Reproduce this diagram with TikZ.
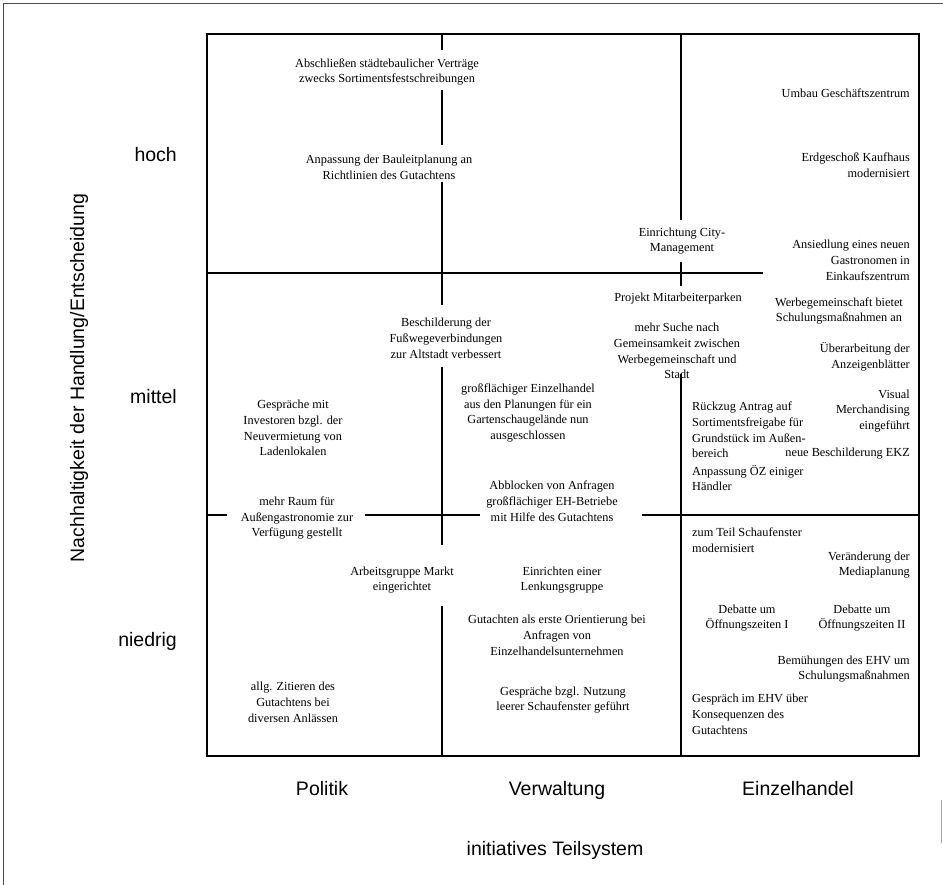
\documentclass[tikz,border=0pt]{standalone}
\usepackage{fontspec}
\setmainfont{Liberation Serif}
\newfontfamily\axisfont{Liberation Sans}
\begin{document}
\begin{tikzpicture}[x=1pt,y=-1pt,
  cell/.style={font=\fontsize{12.3}{15.8}\selectfont, inner sep=0pt, align=center},
  cellr/.style={cell, align=right, anchor=east},
  celll/.style={cell, align=left, anchor=west},
  axis/.style={font=\axisfont\fontsize{19.5}{22}\selectfont, inner sep=0pt},
  gridline/.style={line width=1.5pt},
  frameline/.style={line width=0.8pt, black!70}
]
\useasboundingbox (0,0) rectangle (943,885);

% outer frame (left and top edges, short piece on the right)
\draw[frameline] (3,885) -- (3,3) -- (943,3);
\draw[frameline, black!35] (941,800) -- (941,843);

% matrix border
\coordinate (tl) at (207,34);
\coordinate (br) at (919,756);
\draw[gridline] (tl) rectangle (br);

% divider between Politik and Verwaltung (broken around the labels)
\draw[gridline] (442,34) -- (442,50);
\draw[gridline] (442,90) -- (442,145);
\draw[gridline] (442,182) -- (442,305);
\draw[gridline] (442,367) -- (442,545);
\draw[gridline] (442,606) -- (442,756);

% divider between Verwaltung and Einzelhandel
\draw[gridline] (681,34) -- (681,220);
\draw[gridline] (681,262) -- (681,286);
\draw[gridline] (681,374) -- (681,756);

% divider between hoch and mittel
\draw[gridline] (207,273) -- (763,273);

% divider between mittel and niedrig
\draw[gridline] (207,515) -- (227,515);
\draw[gridline] (365,515) -- (480,515);
\draw[gridline] (642,515) -- (919,515);

% axis labels
\node[axis, anchor=base east] (hoch) at (177,162) {hoch};
\node[axis, anchor=base east] (mittel) at (177,403) {mittel};
\node[axis, anchor=base east] (niedrig) at (177,646) {niedrig};
\node[axis, rotate=90] (yaxis) at (79,378) {Nachhaltigkeit der Handlung/Entscheidung};
\node[axis, anchor=base] (politik) at (322,795) {Politik};
\node[axis, anchor=base] (verwaltung) at (557,795) {Verwaltung};
\node[axis, anchor=base] (einzelhandel) at (798,795) {Einzelhandel};
\node[axis, anchor=base] (xaxis) at (555,855) {initiatives Teilsystem};

% Politik / Verwaltung, hoch
\node[cell] (a1) at (387,72) {Abschließen städtebaulicher Verträge\\zwecks Sortimentsfestschreibungen};
\node[cell] (a2) at (389,167) {Anpassung der Bauleitplanung an\\Richtlinien des Gutachtens};

% Einzelhandel, hoch
\node[cellr] (e1) at (910,93) {Umbau Geschäftszentrum};
\node[cellr] (e2) at (910,165) {Erdgeschoß Kaufhaus\\modernisiert};
\node[cell] (e3) at (682,241) {Einrichtung City-\\Management};
\node[cellr] (e4) at (910,260) {Ansiedlung eines neuen\\Gastronomen in\\Einkaufszentrum};

% mittel
\node[cell] (m1) at (678,299) {Projekt Mitarbeiterparken};
\node[cell] (m2) at (677,351) {mehr Suche nach\\Gemeinsamkeit zwischen\\Werbegemeinschaft und\\Stadt};
\node[cell] (m3) at (839,311) {Werbegemeinschaft bietet\\Schulungsmaßnahmen an};
\node[cellr] (m4) at (910,357) {Überarbeitung der\\Anzeigenblätter};
\node[cellr] (m5) at (910,411) {Visual\\Merchandising\\eingeführt};
\node[celll] (m6) at (692,430) {Rückzug Antrag auf\\Sortimentsfreigabe für\\Grundstück im Außen-\\bereich};
\node[cellr] (m7) at (910,454) {neue Beschilderung EKZ};
\node[celll] (m8) at (692,478) {Anpassung ÖZ einiger\\Händler};
\node[cell] (m9) at (446,338) {Beschilderung der\\Fußwegeverbindungen\\zur Altstadt verbessert};
\node[cell] (m10) at (293,428) {Gespräche mit\\Investoren bzgl. der\\Neuvermietung von\\Ladenlokalen};
\node[cell] (m11) at (528,413) {großflächiger Einzelhandel\\aus den Planungen für ein\\Gartenschaugelände nun\\ausgeschlossen};
\node[cell] (m12) at (552,501) {Abblocken von Anfragen\\großflächiger EH-Betriebe\\mit Hilfe des Gutachtens};
\node[cell] (m13) at (297,518) {mehr Raum für\\Außengastronomie zur\\Verfügung gestellt};

% niedrig
\node[cell] (n1) at (402,580) {Arbeitsgruppe Markt\\eingerichtet};
\node[cell] (n2) at (562,580) {Einrichten einer\\Lenkungsgruppe};
\node[cell] (n3) at (557,635) {Gutachten als erste Orientierung bei\\Anfragen von\\Einzelhandelsunternehmen};
\node[cell] (n4) at (293,702) {allg. Zitieren des\\Gutachtens bei\\diversen Anlässen};
\node[cell] (n5) at (563,700) {Gespräche bzgl. Nutzung\\leerer Schaufenster geführt};
\node[celll] (n6) at (692,540) {zum Teil Schaufenster\\modernisiert};
\node[cellr] (n7) at (910,565) {Veränderung der\\Mediaplanung};
\node[cell] (n8) at (747,618) {Debatte um\\Öffnungszeiten I};
\node[cell] (n9) at (862,618) {Debatte um\\Öffnungszeiten II};
\node[cellr] (n10) at (910,669) {Bemühungen des EHV um\\Schulungsmaßnahmen};
\node[celll] (n11) at (692,714) {Gespräch im EHV über\\Konsequenzen des\\Gutachtens};
\end{tikzpicture}
\end{document}
